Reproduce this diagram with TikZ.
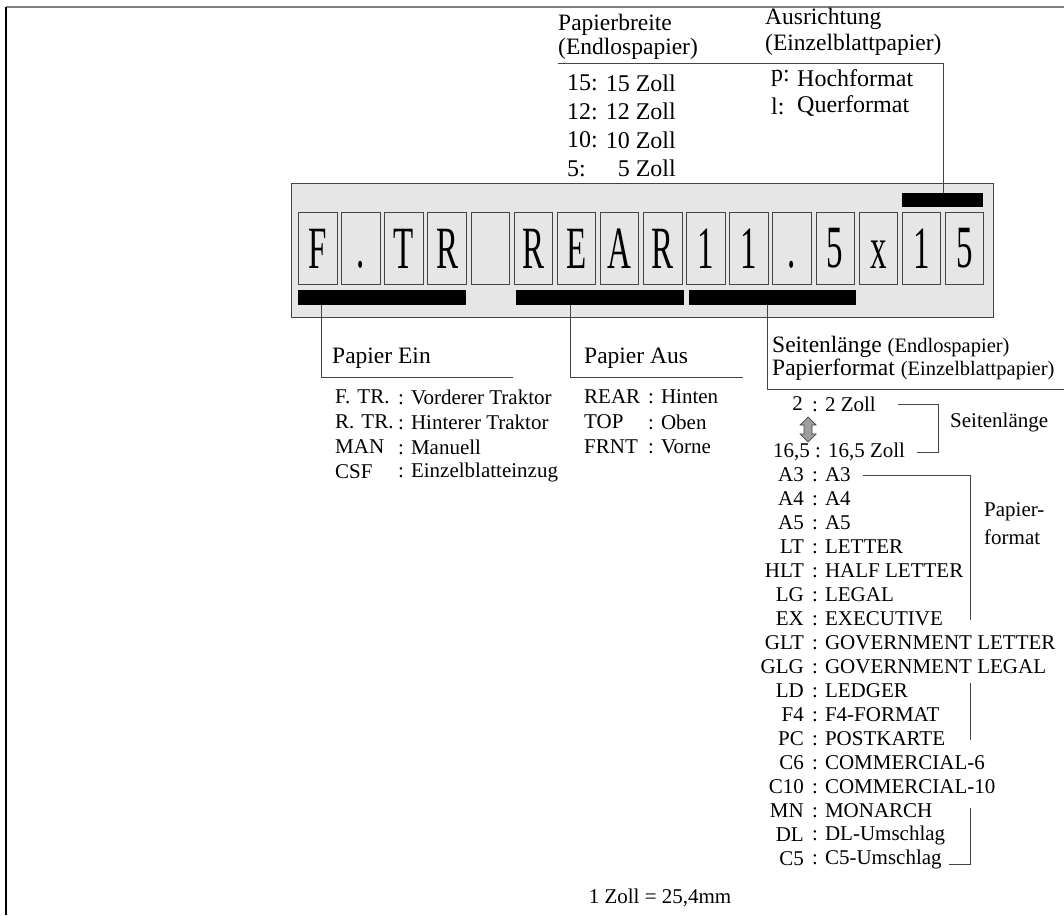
\documentclass[tikz,border=0pt]{standalone}
\usepackage{fontspec}
\setmainfont{Liberation Serif}
\usetikzlibrary{arrows.meta, positioning, calc}
\definecolor{lcdgray}{HTML}{E6E6E6}
\definecolor{framegray}{HTML}{444444}

\begin{document}
\begin{tikzpicture}[x=1pt, y=-1pt,
  head/.style={font=\fontsize{23.5}{24}\selectfont, inner sep=0pt, anchor=west},
  wide/.style={font=\fontsize{24}{24}\selectfont, inner sep=0pt},
  item/.style={font=\fontsize{21}{22}\selectfont, inner sep=0pt, anchor=west},
  key/.style={font=\fontsize{21}{22}\selectfont, inner sep=0pt, anchor=east},
  cell/.style={draw=framegray, line width=0.8pt, minimum width=38.5pt,
               minimum height=72pt, inner sep=0pt, anchor=north west,
               font=\fontsize{60}{60}\selectfont},
  bar/.style={fill=black, inner sep=0pt, anchor=north west, minimum height=15pt},
  lead/.style={line width=0.9pt, framegray}
]
  \useasboundingbox (0,0) rectangle (1064,915);

  % page frame
  \draw[gray, line width=1.2pt] (6,7) -- (1064,7);
  \draw[black, line width=1.2pt] (6,7) -- (6,915);

  % display
  \node[draw=framegray, line width=0.8pt, fill=lcdgray, minimum width=702pt,
        minimum height=134pt, inner sep=0pt, anchor=north west] (lcd) at (291,183) {};
  \foreach \c [count=\i from 0] in {F,.,T,R,{},R,E,A,R,1,1,.,5,x,1,5}
    \node[cell] (c\i) at ({298+43.13*\i},212) {\raisebox{-4pt}{\scalebox{0.55}[1]{\vphantom{R}\c}}};

  \node[bar, minimum width=168pt] (barin) at (298,290) {};
  \node[bar, minimum width=168pt] (barout) at (516,290) {};
  \node[bar, minimum width=167pt] (barlen) at (689,290) {};
  \node[bar, minimum width=81pt, minimum height=14pt] (barori) at (902,193) {};

  % paper width / orientation
  \node[head] (pb) at (558,25) {Papierbreite};
  \node[head] (pbsub) at (558,49) {(Endlospapier)};
  \node[head] (au) at (765,19) {Ausrichtung};
  \node[head] (ausub) at (765,45) {(Einzelblattpapier)};
  \coordinate (topstart) at (558,63);
  \coordinate (oriknee) at (943,63);
  \draw[lead] (topstart) -- (oriknee) -- (barori.north -| oriknee);

  \foreach \k [count=\j from 0] in {15,12,10,5} {
    \node[wide, anchor=west] (pwk\j) at (567,{83+28.5*\j}) {\k:};
    \node[wide, anchor=east] (pwv\j) at (676,{83+28.5*\j}) {\k{} Zoll};
  }
  \node[wide, anchor=west] (ork0) at (771,78) {p:};
  \node[wide, anchor=west] (orv0) at (797,78) {Hochformat};
  \node[wide, anchor=west] (ork1) at (771,106) {l:};
  \node[wide, anchor=west] (orv1) at (797,106) {Querformat};

  % paper in
  \coordinate (inknee) at (321,377);
  \coordinate (inend) at (513,377);
  \draw[lead] (barin.south -| inknee) -- (inknee) -- (inend);
  \node[head] (lblin) at (332,358) {Papier Ein};
  \foreach \k/\v [count=\j from 0] in {F.\hspace{7pt}TR./Vorderer Traktor, R.\hspace{7pt}TR./Hinterer Traktor,
                                       MAN/Manuell, CSF/Einzelblatteinzug} {
    \node[item] (ink\j) at (335,{397+25*\j}) {\k};
    \node[item] (inv\j) at (398,{397+25*\j}) {: \v};
  }

  % paper out
  \coordinate (outknee) at (570,377);
  \coordinate (outend) at (743,377);
  \draw[lead] (barout.south -| outknee) -- (outknee) -- (outend);
  \node[head] (lblout) at (584,358) {Papier Aus};
  \foreach \k/\v [count=\j from 0] in {REAR/Hinten, TOP/Oben, FRNT/Vorne} {
    \node[item] (outk\j) at (584,{397+25*\j}) {\k};
    \node[item] (outv\j) at (648,{397+25*\j}) {: \v};
  }

  % page length / paper format
  \coordinate (lenknee) at (767,389);
  \coordinate (lenend) at (1064,389);
  \draw[lead] (barlen.south -| lenknee) -- (lenknee) -- (lenend);
  \node[head] (lbllen) at (772,347) {Seitenlänge {\fontsize{20.5}{21}\selectfont(Endlospapier)}};
  \node[head] (lblfmt) at (772,370) {Papierformat {\fontsize{20.5}{21}\selectfont(Einzelblattpapier)}};

  \node[key] (ktwo) at (803,404) {2};
  \node[item] (vtwo) at (812,404) {: 2 Zoll};
  \node[key] (ksix) at (810,452) {16,5};
  \node[item] (vsix) at (815,452) {: 16,5 Zoll};
  \coordinate (lenarr) at (808,429.5);
  \filldraw[fill=gray!75, draw=framegray, line width=0.7pt]
    (lenarr) ++(0,-12.5) -- ++(8,8) -- ++(-4,0) -- ++(0,9) -- ++(4,0)
    -- ++(-8,8) -- ++(-8,-8) -- ++(4,0) -- ++(0,-9) -- ++(-4,0) -- cycle;
  \draw[lead] ([xshift=22pt]vtwo.east) -- ++(40,0) |- ([xshift=12pt]vsix.east);
  \node[item] (lblsl) at (950,422) {Seitenlänge};

  \foreach \k/\v [count=\j from 0] in {A3/A3, A4/A4, A5/A5, LT/LETTER, HLT/HALF LETTER,
      LG/LEGAL, EX/EXECUTIVE, GLT/GOVERNMENT LETTER, GLG/GOVERNMENT LEGAL, LD/LEDGER,
      F4/F4-FORMAT, PC/POSTKARTE, C6/COMMERCIAL-6, C10/COMMERCIAL-10, MN/MONARCH,
      DL/DL-Umschlag, C5/C5-Umschlag} {
    \node[key] (fk\j) at (804,{475+24*\j}) {\k};
    \node[item] (fv\j) at (812,{475+24*\j}) {: \v};
  }
  \coordinate (pfa) at (970,620);
  \coordinate (pfb) at (970,683);
  \coordinate (pfc) at (970,740);
  \coordinate (pfd) at (970,808);
  \draw[lead] ([xshift=12pt]fv0.east) -| (pfa);
  \draw[lead] (pfb) -- (pfc);
  \draw[lead] (pfd) |- ([xshift=7pt]fv16.base east);
  \node[item] (lblpf1) at (984,512) {Papier-};
  \node[item] (lblpf2) at (984,537) {format};

  \node[item, anchor=center] (note) at (660,898) {1 Zoll = 25,4mm};
\end{tikzpicture}
\end{document}
